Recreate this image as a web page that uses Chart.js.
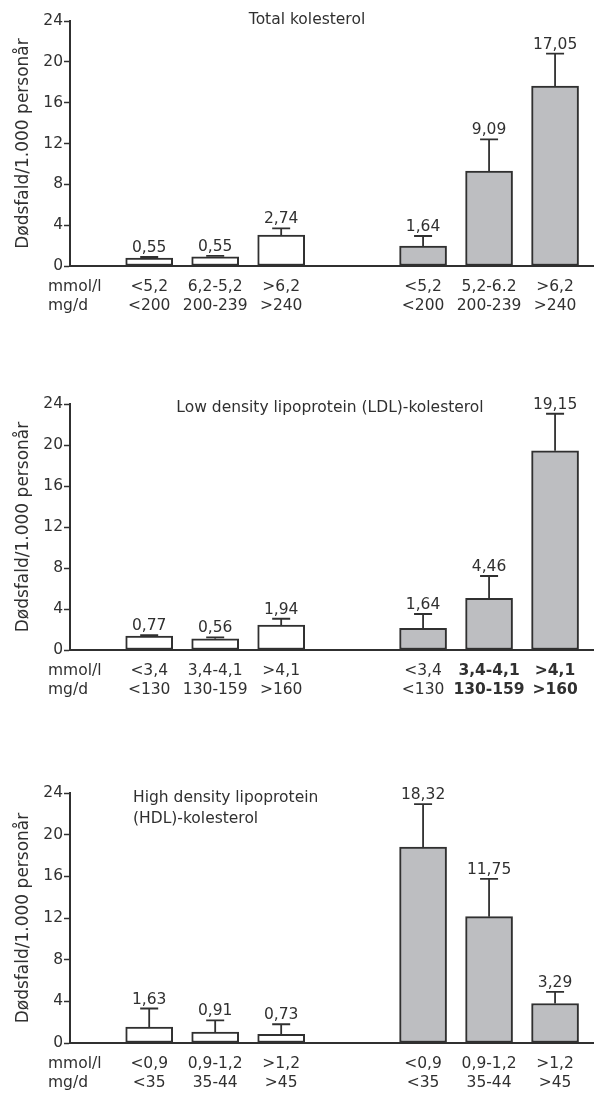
<!DOCTYPE html>
<html>
<head>
<meta charset="utf-8">
<script src="https://cdn.jsdelivr.net/npm/chart.js@4.4.1/dist/chart.umd.min.js"></script>
<style>
  html, body { margin: 0; padding: 0; background: #fff; }
  body { width: 594px; height: 1095px; position: relative; overflow: hidden; }
  canvas { position: absolute; left: 0; }
</style>
</head>
<body>
<canvas id="totalChart" width="594" height="340" style="top:0px"></canvas>
<canvas id="ldlChart" width="594" height="340" style="top:380px"></canvas>
<canvas id="hdlChart" width="594" height="335" style="top:760px"></canvas>
<script>
// bar positions on the x axis (two groups of three, with a gap)
const xPositions = [0, 1, 2, 4.15, 5.15, 6.15];
const unitLabels = ['mmol/l', 'mg/d'];
const yTicks = [0, 4, 8, 12, 16, 20, 24];
const yTitle = 'Dødsfald/1.000 personår';

// Total kolesterol
const totalMmol = ['<5,2', '6,2-5,2', '>6,2', '<5,2', '5,2-6.2', '>6,2'];
const totalMg = ['<200', '200-239', '>240', '<200', '200-239', '>240'];
const totalBars = [0.78, 0.91, 3.04, 1.96, 9.3, 17.63];
const totalUpper = [0.88, 1.0, 3.69, 2.94, 12.4, 20.8];
const totalValues = [0.55, 0.55, 2.74, 1.64, 9.09, 17.05];

// LDL
const ldlMmol = ['<3,4', '3,4-4,1', '>4,1', '<3,4', '3,4-4,1', '>4,1'];
const ldlMg = ['<130', '130-159', '>160', '<130', '130-159', '>160'];
const ldlBars = [1.37, 1.1, 2.44, 2.11, 5.04, 19.44];
const ldlUpper = [1.46, 1.24, 3.05, 3.51, 7.22, 23.05];
const ldlValues = [0.77, 0.56, 1.94, 1.64, 4.46, 19.15];

// HDL
const hdlMmol = ['<0,9', '0,9-1,2', '>1,2', '<0,9', '0,9-1,2', '>1,2'];
const hdlMg = ['<35', '35-44', '>45', '<35', '35-44', '>45'];
const hdlBars = [1.54, 1.06, 0.84, 18.8, 12.13, 3.79];
const hdlUpper = [3.31, 2.18, 1.8, 22.94, 15.76, 4.91];
const hdlValues = [1.63, 0.91, 0.73, 18.32, 11.75, 3.29];

const ink = '#303030';
const family = '"DejaVu Sans", sans-serif';
const fontSize = 15.5;
const lineH = 18.6;
const labelPad = 12;

const fmt = v => v.toFixed(2).replace('.', ',');

// whiskers + value labels above each bar
const errorBarPlugin = {
    id: 'errorBars',
    afterDatasetsDraw(chart, args, opts) {
        const { ctx, scales: { y } } = chart;
        const meta = chart.getDatasetMeta(0);
        ctx.save();
        ctx.strokeStyle = ink;
        ctx.lineWidth = 1.8;
        ctx.fillStyle = ink;
        ctx.font = `${fontSize}px ${family}`;
        ctx.textAlign = 'center';
        ctx.textBaseline = 'alphabetic';
        meta.data.forEach((bar, i) => {
            const top = y.getPixelForValue(opts.upper[i]);
            ctx.beginPath();
            ctx.moveTo(bar.x, bar.y);
            ctx.lineTo(bar.x, top);
            ctx.moveTo(bar.x - 9, top);
            ctx.lineTo(bar.x + 9, top);
            ctx.stroke();
            ctx.fillText(fmt(opts.values[i]), bar.x, top - 5);
        });
        ctx.restore();
    }
};

// panel heading and unit labels under the y axis
const panelTextPlugin = {
    id: 'panelText',
    afterDraw(chart, args, opts) {
        const { ctx, scales: { x } } = chart;
        ctx.save();
        ctx.fillStyle = ink;
        ctx.font = `${fontSize}px ${family}`;
        ctx.textAlign = opts.align;
        ctx.textBaseline = 'alphabetic';
        opts.title.forEach((line, i) => ctx.fillText(line, opts.titleX, opts.titleY + i * 21));
        ctx.textAlign = 'left';
        ctx.textBaseline = 'middle';
        unitLabels.forEach((u, i) => ctx.fillText(u, 48, x.top + labelPad + lineH / 2 + i * lineH));
        ctx.restore();
    }
};

function makePanel(id, mmol, mg, bars, upper, values, fills, boldIdx, pad, title) {
    const ctx = document.getElementById(id).getContext('2d');
    return new Chart(ctx, {
        type: 'bar',
        data: {
            datasets: [{
                data: xPositions.map((x, i) => ({ x: x, y: bars[i] })),
                backgroundColor: fills,
                borderColor: ink,
                borderWidth: 2,
                borderSkipped: false,
                barThickness: 47
            }]
        },
        options: {
            responsive: false,
            animation: false,
            events: [],
            layout: { padding: { left: 10, right: 0, top: pad.top, bottom: pad.bottom } },
            plugins: {
                legend: { display: false },
                tooltip: { enabled: false },
                errorBars: { upper: upper, values: values },
                panelText: title
            },
            scales: {
                x: {
                    type: 'linear',
                    min: -1.2,
                    max: 6.74,
                    offset: false,
                    grid: { display: false, drawTicks: false, tickLength: 0, offset: false },
                    border: { display: true, color: ink, width: 2 },
                    afterBuildTicks: s => { s.ticks = xPositions.map(v => ({ value: v })); },
                    afterFit: s => { s.height = 60; },
                    ticks: {
                        autoSkip: false,
                        maxRotation: 0,
                        minRotation: 0,
                        padding: labelPad,
                        color: ink,
                        font: c => ({ family: family, size: fontSize, lineHeight: lineH / fontSize,
                            weight: boldIdx.includes(c.index) ? 'bold' : 'normal' }),
                        callback: (v, i) => [mmol[i], mg[i]]
                    }
                },
                y: {
                    min: 0,
                    max: 24,
                    afterBuildTicks: s => { s.ticks = yTicks.map(v => ({ value: v })); },
                    afterFit: s => { s.width = 60; },
                    grid: { drawOnChartArea: false, drawTicks: true, tickLength: 6, tickWidth: 1.5, tickColor: ink },
                    border: { display: true, color: ink, width: 2 },
                    ticks: { padding: 1, color: ink, font: { family: family, size: fontSize } },
                    title: {
                        display: true,
                        text: yTitle,
                        color: ink,
                        padding: { top: 3, bottom: 0 },
                        font: { family: family, size: 17 }
                    }
                }
            }
        },
        plugins: [errorBarPlugin, panelTextPlugin]
    });
}

const white = '#ffffff';
const grey = '#bdbec1';
const groupFills = [white, white, white, grey, grey, grey];

makePanel('totalChart', totalMmol, totalMg, totalBars, totalUpper, totalValues, groupFills, [],
    { top: 21, bottom: 14 },
    { title: ['Total kolesterol'], titleX: 307, titleY: 23.5, align: 'center' });

makePanel('ldlChart', ldlMmol, ldlMg, ldlBars, ldlUpper, ldlValues, groupFills, [4, 5],
    { top: 24, bottom: 10 },
    { title: ['Low density lipoprotein (LDL)-kolesterol'], titleX: 330, titleY: 31.7, align: 'center' });

makePanel('hdlChart', hdlMmol, hdlMg, hdlBars, hdlUpper, hdlValues, groupFills, [],
    { top: 33, bottom: -8 },
    { title: ['High density lipoprotein', '(HDL)-kolesterol'], titleX: 133, titleY: 41.7, align: 'left' });
</script>
</body>
</html>
